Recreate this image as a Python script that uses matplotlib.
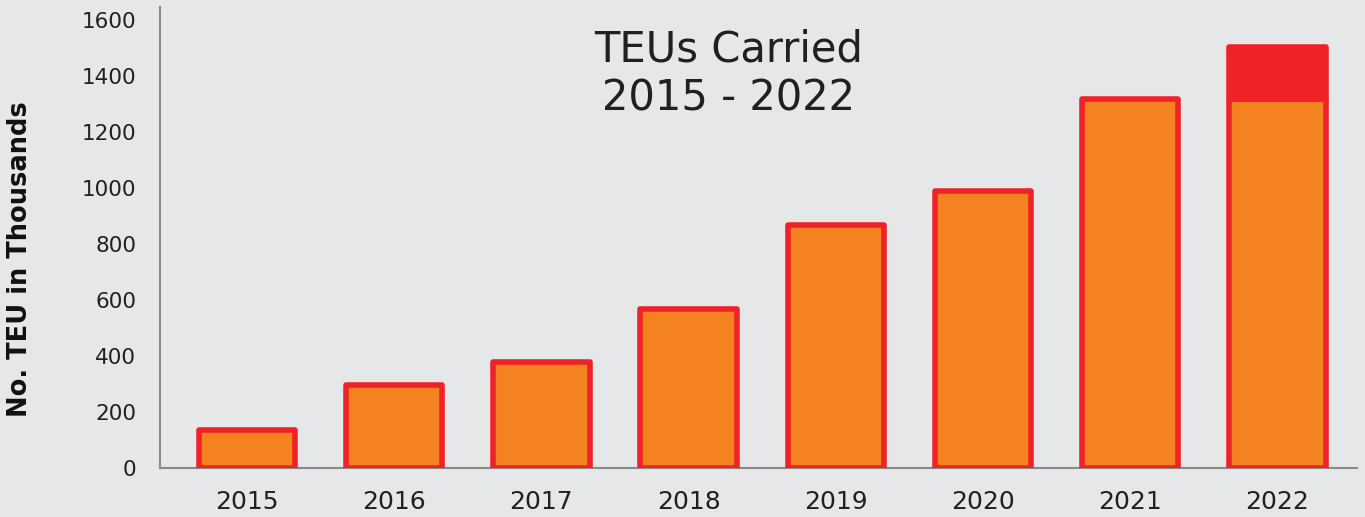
import matplotlib
matplotlib.use("Agg")
import matplotlib.pyplot as plt

years = ["2015", "2016", "2017", "2018", "2019", "2020", "2021", "2022"]
teu_base = [136, 296, 380, 566, 866, 990, 1316, 1318]
teu_extra = [0, 0, 0, 0, 0, 0, 0, 186]
yticks = [0, 200, 400, 600, 800, 1000, 1200, 1400, 1600]

BG = "#e6e7e8"
ORANGE = "#f48221"
RED = "#ee2227"
TEXT = "#231f20"

plt.rcParams['font.family'] = ['DejaVu Sans']

fig = plt.figure(figsize=(13.65, 5.17), dpi=100, facecolor=BG)
ax = fig.add_axes([160/1365, 49/517, (1357-160)/1365, (468-7)/517])
ax.set_facecolor(BG)

x = list(range(len(years)))
ax.bar(x, teu_base, width=0.655, color=ORANGE, edgecolor=RED, linewidth=4,
       joinstyle='round', zorder=3)
ax.bar(x, teu_extra, bottom=teu_base, width=0.655, color=RED, edgecolor=RED,
       linewidth=[4 if v > 0 else 0 for v in teu_extra], joinstyle='round', zorder=3)

ax.set_xlim(-0.59, 7.54)
ax.set_ylim(0, 1646)
ax.set_yticks(yticks)
ax.set_yticklabels([str(v) for v in yticks], fontsize=15.5, color=TEXT)
ax.set_xticks(x)
ax.set_xticklabels(years, fontsize=18, color=TEXT)
ax.tick_params(axis='y', length=0, pad=17)
ax.tick_params(axis='x', length=0, pad=16)

for s in ["top", "right"]:
    ax.spines[s].set_visible(False)
for s in ["left", "bottom"]:
    ax.spines[s].set_color("#8a8a8c")
    ax.spines[s].set_linewidth(1.5)
    ax.spines[s].set_zorder(2)

fig.text(20/1365, 1 - 259/517, "No. TEU in Thousands", rotation=90, ha='center', va='center',
         fontsize=18.5, fontweight='bold', color='#111111')

fig.text(729/1365, 1 - 74/517, "TEUs Carried\n2015 - 2022", ha='center', va='center',
         fontsize=30, color=TEXT, linespacing=1.2)

fig.savefig("out.png", dpi=100, facecolor=BG)
